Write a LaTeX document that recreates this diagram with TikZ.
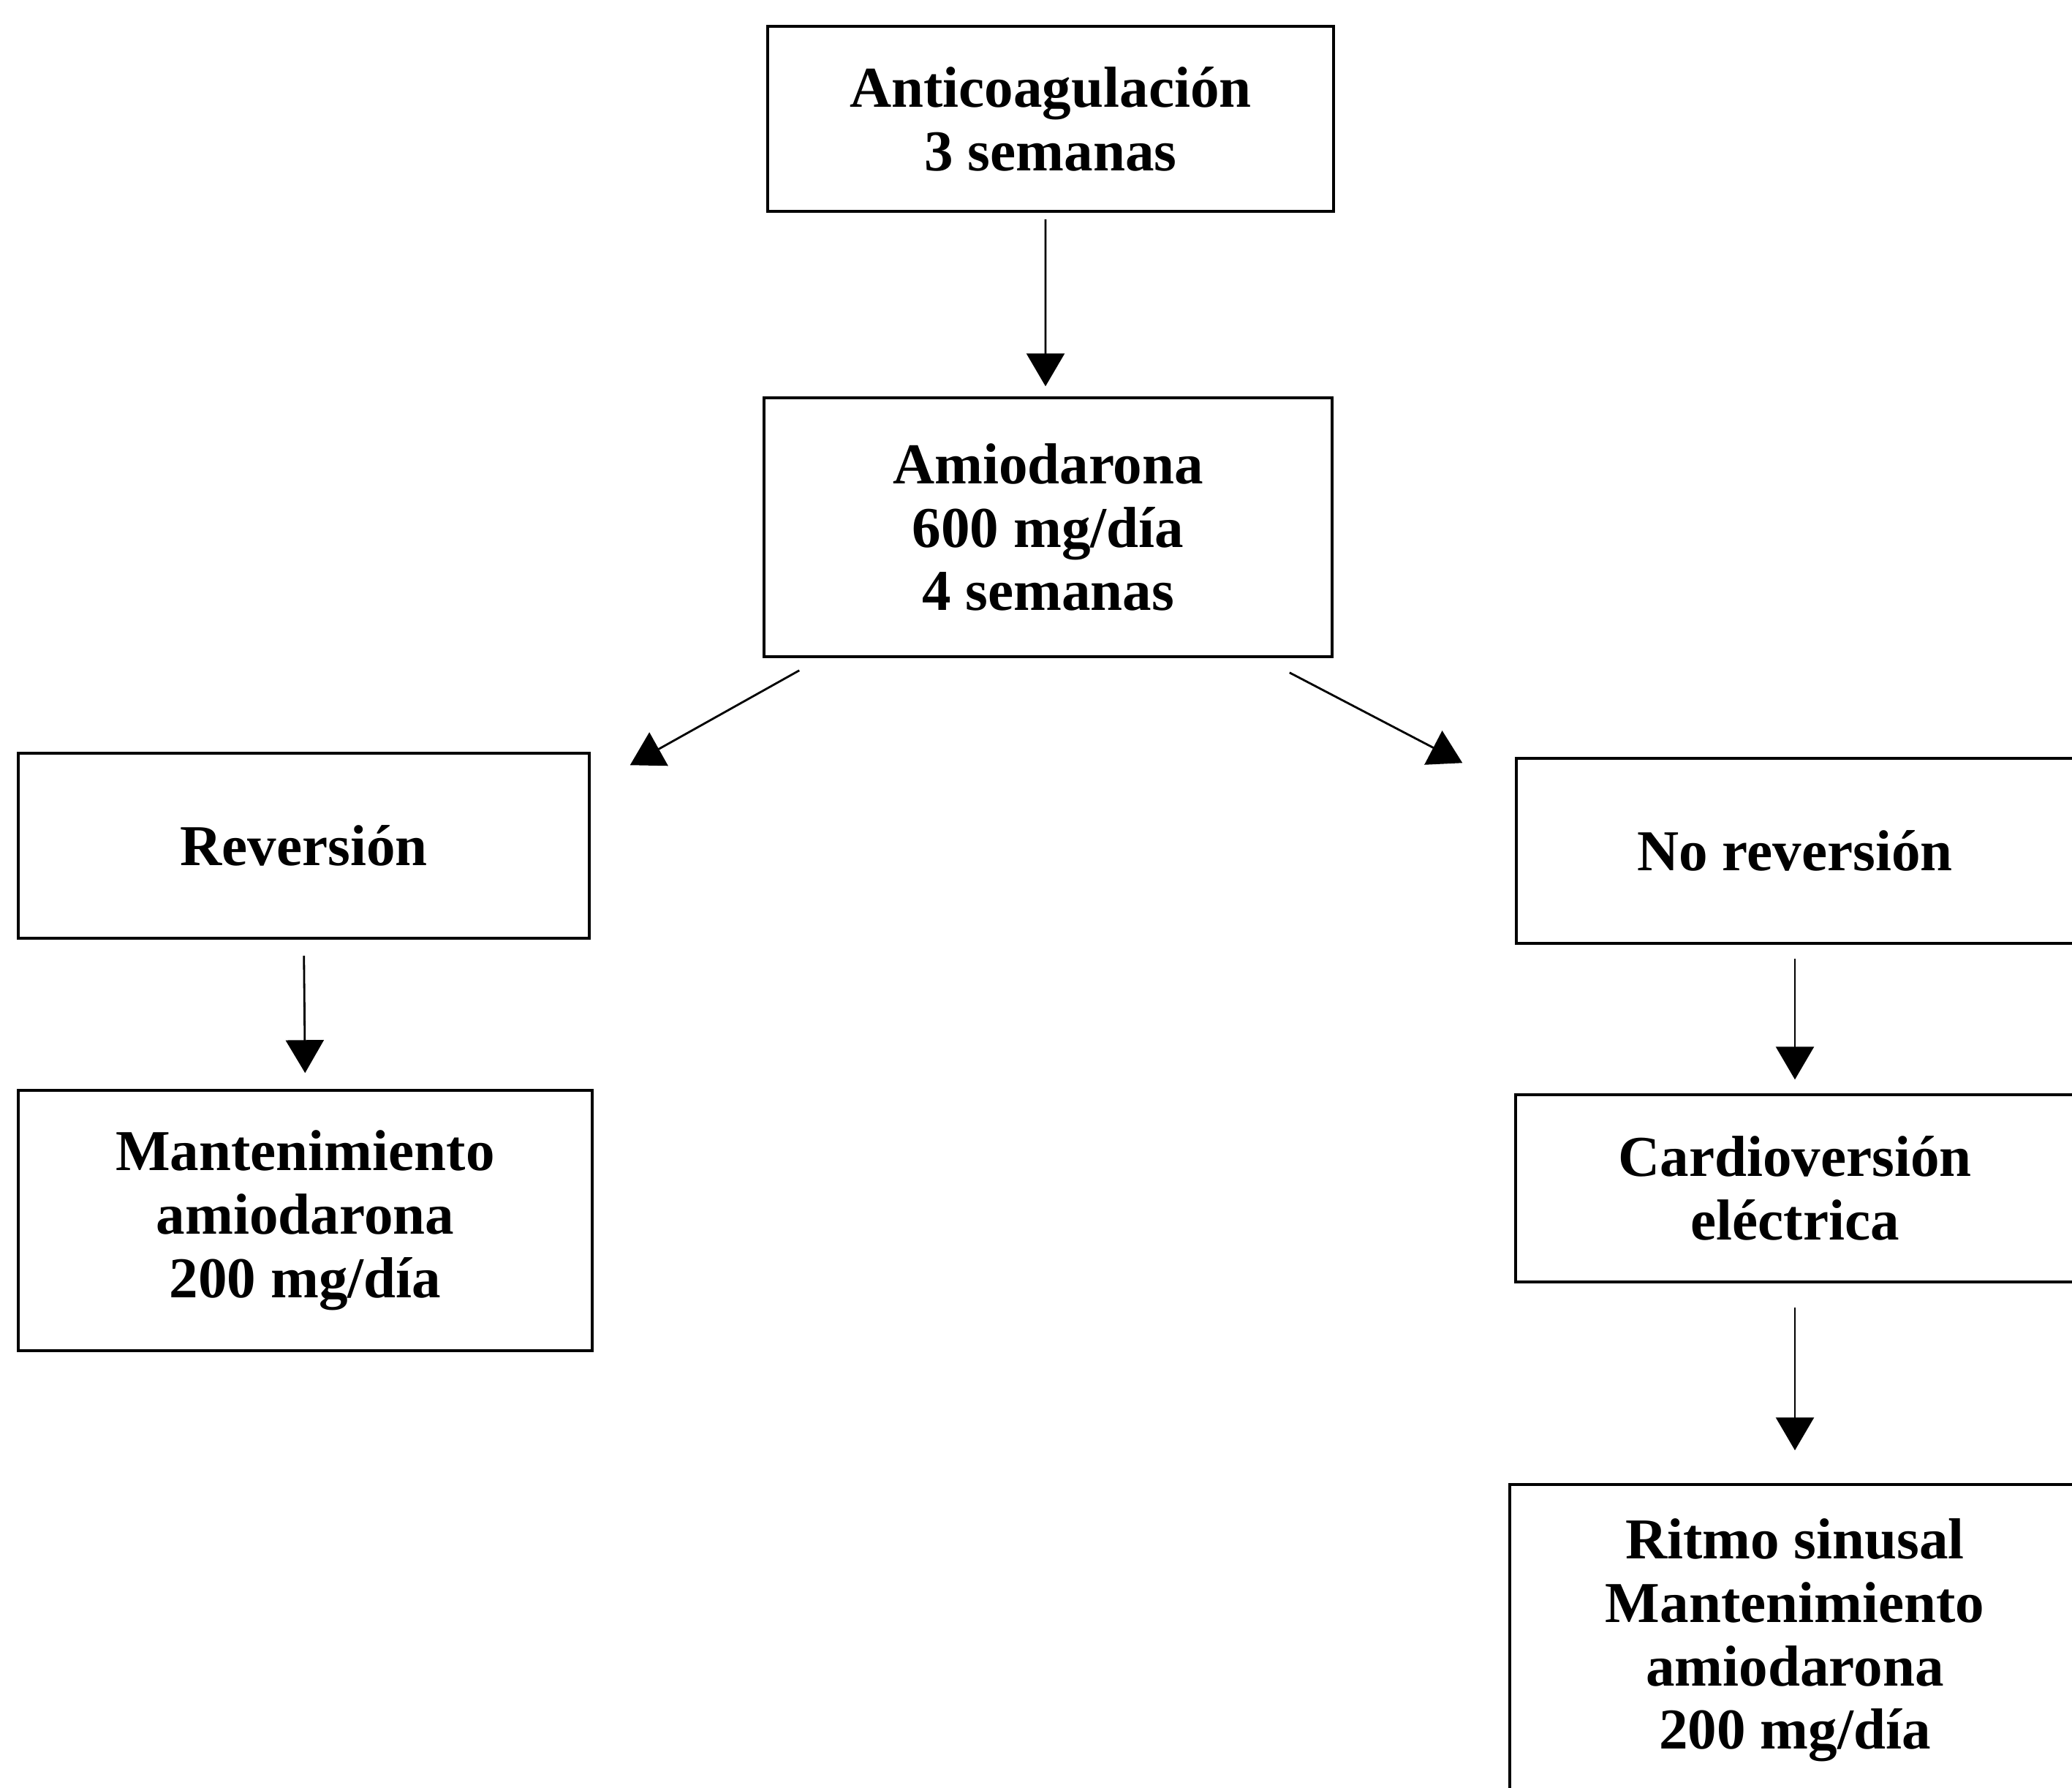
\documentclass[tikz,border=0pt]{standalone}
\usepackage{fontspec}
\setmainfont{Liberation Serif}
\usepackage{tikz}
\usetikzlibrary{arrows.meta, positioning}

\begin{document}
\begin{tikzpicture}[
    box/.style={draw, line width=1pt, inner sep=0pt, align=center, font=\bfseries\fontsize{22.5}{24.7}\selectfont},
    flow/.style={-{Triangle[length=4.5mm, width=5.2mm]}, line width=0.8pt}
]
    \useasboundingbox (0,0) rectangle (28.34,-24.44);
    \clip (0,0) rectangle (28.34,-24.44);

    % Boxes
    \node[box, minimum width=7.74cm, minimum height=2.53cm] (anticoag) at (14.37,-1.625) {Anticoagulación\\3 semanas};
    \node[box, minimum width=7.77cm, minimum height=3.54cm] (amio) at (14.335,-7.21) {Amiodarona\\600 mg/día\\4 semanas};
    \node[box, minimum width=7.81cm, minimum height=2.53cm] (rev) at (4.155,-11.565) {Reversión};
    \node[box, minimum width=7.85cm, minimum height=3.56cm] (mant) at (4.175,-16.69) {Mantenimiento\\amiodarona\\200 mg/día};
    \node[box, minimum width=7.62cm, minimum height=2.53cm] (norev) at (24.55,-11.635) {No reversión};
    \node[box, minimum width=7.64cm, minimum height=2.56cm] (cardio) at (24.55,-16.25) {Cardioversión\\eléctrica};
    \node[box, minimum width=7.80cm, minimum height=4.26cm] (ritmo) at (24.55,-22.43) {Ritmo sinusal\\Mantenimiento\\amiodarona\\200 mg/día};

    % Arrows
    \draw[flow, shorten <=0.09cm, shorten >=0.14cm] ([xshift=-0.07cm]anticoag.south) -- ([xshift=-0.035cm]amio.north);
    \draw[flow] ([shift={(0.5,-0.17)}]amio.south west) -- ([shift={(0.54,-0.18)}]rev.north east);
    \draw[flow] ([shift={(-0.6,-0.2)}]amio.south east) -- ([shift={(-0.72,-0.08)}]norev.north west);
    \draw[flow, shorten <=0.22cm, shorten >=0.22cm] (rev.south) -- (mant.north);
    \draw[flow, shorten <=0.19cm, shorten >=0.19cm] (norev.south) -- (cardio.north);
    \draw[flow, shorten <=0.33cm, shorten >=0.45cm] (cardio.south) -- (ritmo.north);
\end{tikzpicture}
\end{document}
